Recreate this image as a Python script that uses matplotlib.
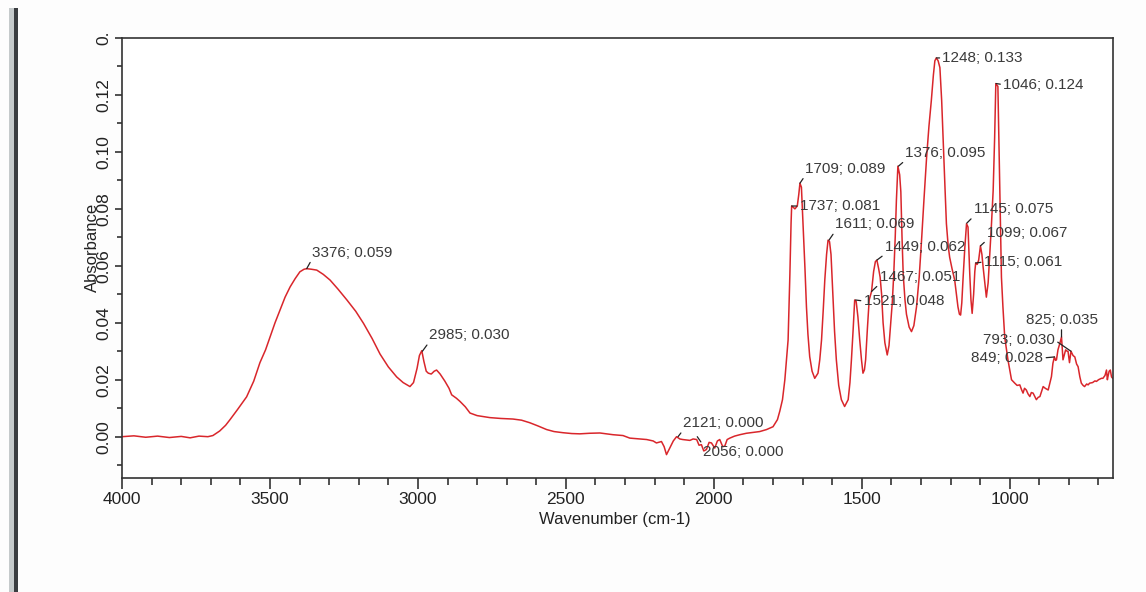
import matplotlib
matplotlib.use('Agg')
import matplotlib.pyplot as plt
from matplotlib.patches import Rectangle
from matplotlib.ticker import MultipleLocator, FixedLocator, FixedFormatter

plt.rcParams['font.family'] = ['Liberation Sans', 'DejaVu Sans']

# FTIR spectrum (wavenumber in cm-1, absorbance)
wavenumber = [
    4000, 3960, 3920, 3880, 3840, 3800, 3770, 3740, 3710, 3693, 3670, 3650, 3635, 3610, 3579,
    3555, 3534, 3515, 3500, 3483, 3466, 3449, 3432, 3415, 3399, 3385, 3376, 3360, 3342, 3320,
    3297, 3270, 3240, 3210, 3184, 3155, 3128, 3100, 3072, 3050, 3027, 3015, 3003, 2995, 2987,
    2980, 2972, 2965, 2955, 2945, 2937, 2925, 2909, 2895, 2886, 2870, 2858, 2840, 2824, 2800,
    2757, 2720, 2679, 2650, 2622, 2595, 2565, 2540, 2510, 2480, 2453, 2420, 2385, 2341, 2307,
    2284, 2250, 2227, 2205, 2194, 2177, 2168, 2160, 2149, 2137, 2126, 2115, 2105, 2090, 2081,
    2070, 2058, 2050, 2042, 2034, 2025, 2016, 2008, 1997, 1988, 1980, 1970, 1963, 1955, 1946,
    1930, 1912, 1890, 1867, 1845, 1822, 1800, 1785, 1777, 1768, 1760, 1749, 1743, 1739, 1737,
    1731, 1726, 1718, 1713, 1709, 1704, 1698, 1692, 1687, 1682, 1676, 1668, 1659, 1648, 1642,
    1636, 1630, 1625, 1619, 1614, 1609, 1604, 1597, 1592, 1586, 1578, 1569, 1558, 1546, 1540,
    1535, 1529, 1524, 1519, 1513, 1507, 1501, 1496, 1491, 1487, 1481, 1475, 1467, 1460, 1454,
    1449, 1443, 1438, 1433, 1428, 1422, 1414, 1408, 1403, 1397, 1392, 1387, 1383, 1378, 1372,
    1368, 1364, 1360, 1354, 1349, 1340, 1332, 1324, 1315, 1306, 1298, 1290, 1281, 1273, 1265,
    1258, 1253, 1248, 1242, 1236, 1230, 1225, 1219, 1214, 1208, 1203, 1195, 1186, 1180, 1175,
    1170, 1166, 1162, 1158, 1152, 1146, 1141, 1135, 1131, 1127, 1122, 1118, 1115, 1110, 1105,
    1099, 1094, 1090, 1084, 1079, 1073, 1068, 1062, 1056, 1051, 1047, 1040, 1036, 1032, 1028,
    1023, 1017, 1006, 994, 983, 975, 966, 960, 955, 950, 944, 938, 932, 927, 921,
    915, 910, 904, 898, 892, 887, 880, 870, 864, 859, 854, 849, 845, 842, 837,
    830, 825, 820, 815, 811, 806, 803, 798, 793, 786, 780, 774, 769, 763, 758,
    752, 747, 740, 735, 730, 720, 712, 707, 700, 690, 685, 678, 673, 670, 668,
    664, 660, 656, 652,
]
absorbance = [
    0.0000, 0.0003, -0.0002, 0.0002, -0.0003, 0.0001, -0.0004, 0.0002, 0.0000, 0.0004, 0.0020, 0.0040, 0.0060, 0.0095, 0.0140,
    0.0195, 0.0260, 0.0305, 0.0350, 0.0400, 0.0445, 0.0490, 0.0526, 0.0555, 0.0579, 0.0588, 0.0590, 0.0588, 0.0585, 0.0570,
    0.0550, 0.0518, 0.0480, 0.0440, 0.0398, 0.0345, 0.0290, 0.0245, 0.0210, 0.0190, 0.0176, 0.0190, 0.0240, 0.0285, 0.0302,
    0.0265, 0.0230, 0.0223, 0.0220, 0.0230, 0.0234, 0.0220, 0.0195, 0.0170, 0.0147, 0.0135, 0.0124, 0.0105, 0.0083, 0.0074,
    0.0067, 0.0064, 0.0062, 0.0058, 0.0049, 0.0038, 0.0025, 0.0018, 0.0014, 0.0011, 0.0010, 0.0012, 0.0013, 0.0007, 0.0004,
    -0.0005, -0.0008, -0.0010, -0.0015, -0.0022, -0.0017, -0.0035, -0.0063, -0.0040, -0.0015, 0.0000, -0.0008, -0.0010, -0.0012, -0.0013,
    -0.0008, -0.0010, -0.0030, -0.0028, -0.0050, -0.0045, -0.0020, -0.0022, -0.0040, -0.0015, -0.0010, -0.0035, -0.0033, -0.0010, -0.0005,
    0.0002, 0.0007, 0.0012, 0.0015, 0.0018, 0.0025, 0.0035, 0.0060, 0.0090, 0.0130, 0.0200, 0.0340, 0.0570, 0.0750, 0.0810,
    0.0805, 0.0800, 0.0810, 0.0850, 0.0890, 0.0876, 0.0736, 0.0590, 0.0456, 0.0360, 0.0281, 0.0230, 0.0205, 0.0223, 0.0270,
    0.0340, 0.0450, 0.0550, 0.0640, 0.0690, 0.0685, 0.0640, 0.0480, 0.0370, 0.0270, 0.0180, 0.0130, 0.0106, 0.0130, 0.0190,
    0.0270, 0.0380, 0.0480, 0.0475, 0.0420, 0.0340, 0.0270, 0.0223, 0.0235, 0.0270, 0.0380, 0.0480, 0.0510, 0.0580, 0.0615,
    0.0620, 0.0590, 0.0560, 0.0500, 0.0400, 0.0330, 0.0287, 0.0320, 0.0386, 0.0470, 0.0570, 0.0700, 0.0830, 0.0950, 0.0920,
    0.0860, 0.0700, 0.0570, 0.0480, 0.0430, 0.0385, 0.0369, 0.0390, 0.0456, 0.0560, 0.0690, 0.0830, 0.0980, 0.1090, 0.1180,
    0.1270, 0.1320, 0.1330, 0.1320, 0.1296, 0.1180, 0.1040, 0.0880, 0.0748, 0.0670, 0.0630, 0.0590, 0.0550, 0.0500, 0.0456,
    0.0430, 0.0427, 0.0470, 0.0550, 0.0660, 0.0748, 0.0736, 0.0570, 0.0480, 0.0433, 0.0500, 0.0580, 0.0610, 0.0605, 0.0620,
    0.0670, 0.0640, 0.0596, 0.0540, 0.0490, 0.0540, 0.0630, 0.0740, 0.0864, 0.1050, 0.1240, 0.1230, 0.1000, 0.0750, 0.0560,
    0.0456, 0.0350, 0.0270, 0.0200, 0.0188, 0.0180, 0.0182, 0.0165, 0.0153, 0.0170, 0.0164, 0.0150, 0.0141, 0.0155, 0.0153,
    0.0140, 0.0130, 0.0138, 0.0141, 0.0160, 0.0176, 0.0170, 0.0164, 0.0190, 0.0211, 0.0258, 0.0280, 0.0268, 0.0270, 0.0305,
    0.0330, 0.0350, 0.0270, 0.0290, 0.0305, 0.0300, 0.0300, 0.0260, 0.0300, 0.0285, 0.0280, 0.0255, 0.0246, 0.0210, 0.0188,
    0.0180, 0.0176, 0.0185, 0.0182, 0.0188, 0.0190, 0.0196, 0.0194, 0.0200, 0.0205, 0.0205, 0.0215, 0.0234, 0.0200, 0.0211,
    0.0230, 0.0234, 0.0210, 0.0205,
]

# peak picks shown on the chart
peak_wn = [3376, 2985, 2121, 2056, 1737, 1709, 1611, 1521, 1467, 1449,
           1376, 1248, 1145, 1115, 1099, 1046, 849, 825, 793]
peak_abs = [0.059, 0.030, 0.000, 0.000, 0.081, 0.089, 0.069, 0.048, 0.051, 0.062,
            0.095, 0.133, 0.075, 0.061, 0.067, 0.124, 0.028, 0.035, 0.030]

y_ticks = [0.00, 0.02, 0.04, 0.06, 0.08, 0.10, 0.12, 0.14]
y_tick_labels = ['0.00', '0.02', '0.04', '0.06', '0.08', '0.10', '0.12', '0.']

# label placement: dx, dy (pixels), ha, leader anchor on the text box
label_layout = {
    3376: (5, 16, 'left', (0, 0)),
    2985: (6.6, 16, 'left', (0, 0)),
    2121: (5, 13.5, 'left', (0, 0)),
    2056: (5.5, -15, 'left', (0, 1)),
    1737: (8, 0, 'left', (0, 0.5)),
    1709: (5, 14.4, 'left', (0, 0)),
    1611: (6, 15.7, 'left', (0, 0)),
    1521: (8, -1, 'left', (0, 0.5)),
    1467: (8, 14.6, 'left', (0, 0)),
    1449: (8, 13, 'left', (0, 0)),
    1376: (7, 13, 'left', (0, 0)),
    1248: (6, 0, 'left', (0, 0.5)),
    1145: (7, 14, 'left', (0, 0)),
    1115: (8, 1, 'left', (0, 0.5)),
    1099: (6.6, 13, 'left', (0, 0)),
    1046: (7, -1, 'left', (0, 0.5)),
    849: (-11, -1, 'right', (1, 0.5)),
    825: (0, 17, 'center', (0.5, 0)),
    793: (-16, 11, 'right', (1, 0.5)),
}

fig = plt.figure(figsize=(11.46, 5.92), dpi=100)
fig.patch.set_facecolor('#fdfdfd')

# grey window border on the left of the screenshot
fig.patches.append(Rectangle((9 / 1146, 0), 5 / 1146, 584 / 592, transform=fig.transFigure,
                             facecolor='#c5cacb', edgecolor='none'))
fig.patches.append(Rectangle((14 / 1146, 0), 3.5 / 1146, 584 / 592, transform=fig.transFigure,
                             facecolor='#3a3d40', edgecolor='none'))

ax = fig.add_axes([0.1065, 0.1926, 0.8647, 0.7432])
ax.set_facecolor('white')
ax.plot(wavenumber, absorbance, color='#d9262b', lw=1.1)

for w, a in zip(peak_wn, peak_abs):
    dx, dy, ha, rel = label_layout[w]
    ax.annotate(f'{w}; {a:.3f}', xy=(w, a), xytext=(dx, dy), textcoords='offset pixels',
                ha=ha, va='center', fontsize=11, color='#3a3a3a',
                arrowprops=dict(arrowstyle='-', color='#222222', lw=0.9,
                                shrinkA=0, shrinkB=0, relpos=rel))

ax.set_xlim(4000, 651)
ax.set_ylim(-0.0145, 0.14)

ax.xaxis.set_major_locator(MultipleLocator(500))
ax.xaxis.set_minor_locator(MultipleLocator(100))
ax.yaxis.set_major_locator(FixedLocator(y_ticks))
ax.yaxis.set_major_formatter(FixedFormatter(y_tick_labels))
ax.yaxis.set_minor_locator(MultipleLocator(0.01))

for s in ax.spines.values():
    s.set_color('#333333')
    s.set_linewidth(1.2)

ax.tick_params(axis='x', which='major', direction='out', length=8, width=1.2,
               labelsize=12.5, pad=2, colors='#333333', labelcolor='#222222')
ax.tick_params(axis='x', which='minor', direction='out', length=5, width=1.2, colors='#333333')
ax.tick_params(axis='y', which='major', direction='out', length=5, width=1.2,
               labelsize=12.5, pad=3, labelrotation=90, colors='#333333', labelcolor='#222222')
ax.tick_params(axis='y', which='minor', direction='out', length=3.5, width=1.2, colors='#333333')
for lab in ax.get_yticklabels():
    lab.set_va('center')

ax.set_xlabel('Wavenumber (cm-1)', fontsize=12, color='#222222', va='center')
ax.set_ylabel('Absorbance', fontsize=12, color='#222222', va='center')
ax.xaxis.set_label_coords(0.497, -0.0955)
ax.yaxis.set_label_coords(-0.0303, 0.523)

plt.savefig('out.png', dpi=100, facecolor=fig.get_facecolor())
